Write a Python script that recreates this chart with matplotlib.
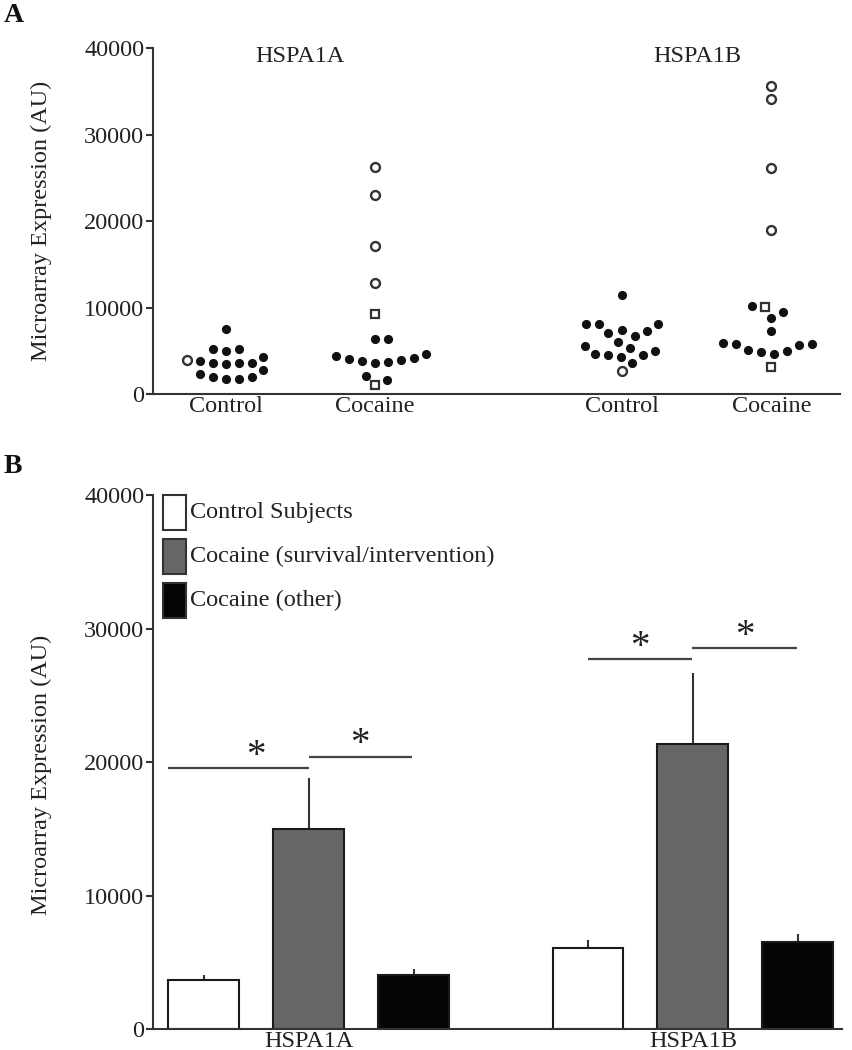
import matplotlib
matplotlib.use("Agg")
import matplotlib.pyplot as plt
import numpy as np
from matplotlib.patches import Rectangle

plt.rcParams["font.family"] = ["Liberation Serif", "DejaVu Serif"]

# Panel A: individual subjects (AU)
ctrl_a_filled = [7570, 4990, 5190, 5190, 3650, 3650, 3460, 3650, 3840, 4340,
                 2300, 1990, 1730, 1730, 2040, 2770]
ctrl_a_open = [3920]
ctrl_a_square = []
coc_a_filled = [6420, 6420, 4150, 3920, 4690, 3840, 4420, 3570, 3730, 4030,
                2110, 1650]
coc_a_open = [26300, 23050, 17100, 12870]
coc_a_square = [9300, 1040]

ctrl_b_filled = [11530, 8070, 8070, 7300, 6720, 7030, 7410, 8070, 6030, 5570,
                 5380, 4610, 4500, 4340, 3650, 4500, 4990]
ctrl_b_open = [2690]
ctrl_b_square = []
coc_b_filled = [10180, 9490, 8840, 7300, 5760, 5650, 4990, 4880, 4610, 5110,
                5760, 5880]
coc_b_open = [35620, 34090, 26130, 18940]
coc_b_square = [10110, 3190]

scatter_labels = ["Control", "Cocaine", "Control", "Cocaine"]
genes = ["HSPA1A", "HSPA1B"]

# Panel B: group means and SEM
series_names = ["Control Subjects", "Cocaine (survival/intervention)",
                "Cocaine (other)"]
ctrl_mean = [3690, 6110]
ctrl_sem = [380, 580]
surv_mean = [14980, 21350]
surv_sem = [3820, 5320]
other_mean = [4070, 6560]
other_sem = [420, 580]

# significance bars (x from, x to, height) in bar-position units
sig_lines = [(-0.34, 1.0, 19550), (1.0, 1.98, 20420),
             (3.66, 4.655, 27720), (4.655, 5.65, 28540)]

TXT = "#222222"
FS = 17.5

fig = plt.figure(figsize=(8.53, 10.5), dpi=100)
W, H = 853, 1050


def px_axes(left, top, right, bottom):
    return fig.add_axes([left / W, 1 - bottom / H, (right - left) / W,
                         (bottom - top) / H])


def style(ax):
    for s in ["top", "right"]:
        ax.spines[s].set_visible(False)
    for s in ["left", "bottom"]:
        ax.spines[s].set_linewidth(1.5)
        ax.spines[s].set_color("#333333")
    ax.set_ylim(0, 40000)
    ax.set_yticks([0, 10000, 20000, 30000, 40000])
    ax.tick_params(axis="y", length=5, width=1.5, color="#333333",
                   labelsize=FS, labelcolor=TXT, pad=1)
    ax.tick_params(axis="x", length=0, labelsize=FS, labelcolor=TXT, pad=1)


def swarm(ax, center, values, min_dist=12.5):
    values = np.asarray(values, dtype=float)
    pts = ax.transData.transform(
        np.column_stack([np.full(len(values), center), values]))
    placed = []
    xs = np.zeros(len(values))
    for i in np.argsort(values):
        cx, cy = pts[i]
        k = 0
        while True:
            off = ((k + 1) // 2) * (1 if k % 2 else -1)
            x = cx + off
            if all((x - px) ** 2 + (cy - py) ** 2 >= min_dist ** 2
                   for px, py in placed):
                break
            k += 1
        placed.append((x, cy))
        xs[i] = x
    back = ax.transData.inverted().transform(np.column_stack([xs, pts[:, 1]]))
    return back[:, 0]


# ---------------- Panel A ----------------
axA = px_axes(152.7, 48.3, 840, 394.3)
style(axA)
posA = [0, 1, 2.66, 3.66]
axA.set_xlim(-0.49, 4.12)
axA.set_xticks(posA)
axA.set_xticklabels(scatter_labels)

groups = [(ctrl_a_filled, ctrl_a_open, ctrl_a_square),
          (coc_a_filled, coc_a_open, coc_a_square),
          (ctrl_b_filled, ctrl_b_open, ctrl_b_square),
          (coc_b_filled, coc_b_open, coc_b_square)]
for pos, (filled, opn, sq) in zip(posA, groups):
    vals = list(filled) + list(opn) + list(sq)
    kinds = ["f"] * len(filled) + ["o"] * len(opn) + ["s"] * len(sq)
    xs = swarm(axA, pos, vals)
    kinds = np.array(kinds)
    vals = np.array(vals)
    m = kinds == "f"
    axA.plot(xs[m], vals[m], "o", ms=6.6, color="#111111", mec="#111111",
             mew=0, clip_on=False)
    m = kinds == "o"
    axA.plot(xs[m], vals[m], "o", ms=6.4, mfc="white", mec="#333333",
             mew=1.7, clip_on=False)
    m = kinds == "s"
    axA.plot(xs[m], vals[m], "s", ms=6.2, mfc="white", mec="#333333",
             mew=1.6, clip_on=False)

for g, x in zip(genes, [0.5, 3.16]):
    axA.text(x, 39100, g, ha="center", va="center", fontsize=FS, color=TXT)

fig.text(41 / W, 1 - 221 / H, "Microarray Expression (AU)", rotation=90,
         ha="center", va="center", fontsize=FS, color=TXT)
fig.text(4 / W, 1 - 16 / H, "A", ha="left", va="center", fontsize=20,
         fontweight="bold", color="#111111")

# ---------------- Panel B ----------------
axB = px_axes(152.7, 495, 842, 1029.3)
style(axB)
gpos = np.array([0, 3.66])
width = 0.676
bar_sets = [(ctrl_mean, ctrl_sem, "white"),
            (surv_mean, surv_sem, "#666666"),
            (other_mean, other_sem, "#050505")]
for j, (mean, sem, col) in enumerate(bar_sets):
    x = gpos + j
    axB.bar(x, mean, width, color=col, edgecolor="#1a1a1a", linewidth=1.5,
            zorder=2)
    axB.errorbar(x, mean, yerr=[np.zeros(len(sem)), sem], fmt="none",
                 ecolor="#333333", elinewidth=1.5, capsize=0, zorder=1)
axB.set_xlim(-0.487, 6.08)
axB.set_xticks(gpos + 1)
axB.set_xticklabels(genes)

for x0, x1, y in sig_lines:
    axB.plot([x0, x1], [y, y], color="#444444", lw=1.6, solid_capstyle="butt")
    xm = (max(x0, np.floor(x0 + 0.5)) + x1) / 2 if x0 < 0 else (x0 + x1) / 2
    axB.annotate("*", (xm, y), xytext=(0, -5), textcoords="offset points",
                 ha="center", va="bottom", fontsize=28, color="#222222")

# legend drawn as boxes in axes fraction
box_w, box_h = 0.0338, 0.0655
for k, ((_, _, col), name) in enumerate(zip(bar_sets, series_names)):
    top = 1.0 - k * 0.0824
    axB.add_patch(Rectangle((0.0145, top - box_h), box_w, box_h,
                            transform=axB.transAxes, facecolor=col,
                            edgecolor="#333333", linewidth=1.5,
                            clip_on=False))
    axB.text(0.054, top - box_h / 2, name, transform=axB.transAxes,
             ha="left", va="center", fontsize=FS, color=TXT)

fig.text(41 / W, 1 - 775 / H, "Microarray Expression (AU)", rotation=90,
         ha="center", va="center", fontsize=FS, color=TXT)
fig.text(4 / W, 1 - 466 / H, "B", ha="left", va="center", fontsize=20,
         fontweight="bold", color="#111111")

fig.savefig("out.png", dpi=100)
